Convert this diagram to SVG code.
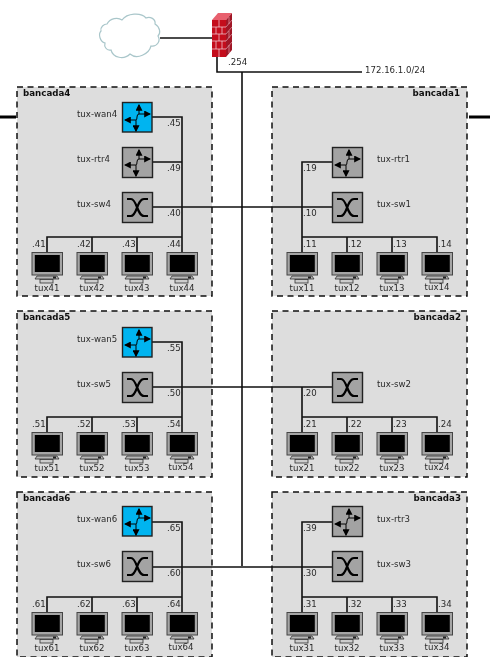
<svg xmlns="http://www.w3.org/2000/svg" width="490" height="667" viewBox="0 0 490 667">
<style>
text{font-family:"DejaVu Sans",sans-serif;font-size:8.6px;fill:#2a2a2a}
.b{font-weight:bold;fill:#111;font-size:8.7px}
.m{text-anchor:middle}
.e{text-anchor:end}
.box{fill:#dddddd;stroke:#111;stroke-width:1.5;stroke-dasharray:6 4.5}
.c{fill:none;stroke:#111;stroke-width:1.6}
.k{fill:none;stroke:#000;stroke-width:3}
.nb{stroke:#222;stroke-width:1.4}
</style>
<defs>
<filter id="soft" x="0" y="0" width="100%" height="100%"><feGaussianBlur stdDeviation="0.3"/></filter>
<marker id="ah" viewBox="0 0 6 6" refX="5" refY="3" markerWidth="7" markerHeight="7" markerUnits="userSpaceOnUse" orient="auto"><path d="M0 0L6 3L0 6Z" fill="#000"/></marker>
<g id="arrows" fill="none" stroke="#000" stroke-width="1">
<path d="M17 12V3" marker-end="url(#ah)"/><path d="M17 12H28" marker-end="url(#ah)"/>
<path d="M14 18H3" marker-end="url(#ah)"/><path d="M14 18V29" marker-end="url(#ah)"/>
<path d="M17 12Q15 12 15 15T14 18"/>
</g>
<g id="router"><rect class="nb" x="0.5" y="0.5" width="30" height="30" fill="#a3a3a3" stroke-width="1.6"/><use href="#arrows"/></g>
<g id="wan"><rect class="nb" x="0.5" y="0.5" width="29.5" height="29.5" fill="#00b4f0"/><use href="#arrows"/></g>
<g id="switch"><rect class="nb" x="0.5" y="0.5" width="30" height="30" fill="#a3a3a3" stroke-width="1.6"/>
<path d="M5 7H9C15 7 15 24 22 24H26M26 7H22C15 7 15 24 9 24H5" fill="none" stroke="#000" stroke-width="2.2"/></g>
<g id="pc">
<rect x="-15" y="0.5" width="30.5" height="22.5" fill="#a5a5a5" stroke="#444" stroke-width="1"/>
<rect x="-12.2" y="3" width="25" height="17" fill="#000"/>
<path d="M-10 24H10L12 27H-12Z" fill="#b5b5b5" stroke="#333" stroke-width="0.8"/>
<rect x="-7" y="27.5" width="13" height="3.5" fill="#ccc" stroke="#333" stroke-width="0.8"/>
<rect x="6" y="24.5" width="3" height="2" fill="#222"/>
</g>
</defs>
<g filter="url(#soft)">
<g id="bancada4"><rect class="box" x="17" y="87" width="195" height="209"/><text class="b" x="23" y="96">bancada4</text></g>
<g id="bancada1"><rect class="box" x="272" y="87" width="195" height="209"/><text class="b e" x="460" y="96">bancada1</text></g>
<g id="bancada5"><rect class="box" x="17" y="311" width="195" height="166"/><text class="b" x="23" y="320">bancada5</text></g>
<g id="bancada2"><rect class="box" x="272" y="311" width="195" height="166"/><text class="b e" x="461" y="320">bancada2</text></g>
<g id="bancada6"><rect class="box" x="17" y="492" width="195" height="165"/><text class="b" x="23" y="501">bancada6</text></g>
<g id="bancada3"><rect class="box" x="272" y="492" width="195" height="165"/><text class="b e" x="461" y="501">bancada3</text></g>

<g id="connectors">
<path class="k" d="M0 117H16M469 117H490"/>
<path class="c" d="M160 38H212M217 56V72H362M242 72V566"/>
<path class="c" d="M152 207H332M152 387H332M152 567H332"/>
<path class="c" d="M152 117H182V252M152 162H182M47 252V237H182M92 237V252M137 237V252"/>
<path class="c" d="M332 162H302V252M302 237H437V252M347 237V252M392 237V252"/>
<path class="c" d="M152 342H182V432M47 432V417H182M92 417V432M137 417V432"/>
<path class="c" d="M302 387V432M302 417H437V432M347 417V432M392 417V432"/>
<path class="c" d="M152 522H182V612M47 612V597H182M92 597V612M137 597V612"/>
<path class="c" d="M332 522H302V612M302 597H437V612M347 597V612M392 597V612"/>
</g>

<g id="cloud"><path d="M107 24C110 18 118 17 122 20C127 13 141 12 146 18C150 16 156 19 155 24C160 27 161 33 158 36C161 41 157 47 151 46C149 54 137 60 130 54C124 60 113 58 111 50C106 51 104 46 105 43C100 42 98 34 101 31C100 27 104 24 107 24Z" fill="#fff" stroke="#a9c6ca" stroke-width="1.2"/></g>
<g id="firewall">
<path d="M212 20L218 13H232L226 20Z" fill="#e8606e"/>
<path d="M226 20L232 13V50L226 57Z" fill="#a01526"/>
<rect x="212" y="20" width="14" height="37" fill="#c4091f"/>
<path d="M212 27H226M212 34H226M212 41H226M212 49H226M219 20V27M216 27V34M222 27V34M219 34V41M216 41V49M222 41V49M219 49V57" stroke="#f3dcdc" stroke-width="0.7" fill="none"/>
<path d="M226 27L232 20M226 34L232 27M226 41L232 34M226 49L232 42M229 17V24M229 31V38M229 45V53" stroke="#e9b8c0" stroke-width="0.6" fill="none"/>
</g>
<g id="net"><text x="228" y="65">.254</text><text x="365" y="73">172.16.1.0/24</text></g>

<g id="tux-wan4"><use href="#wan" x="122" y="102"/><text x="77" y="117">tux-wan4</text><text x="167" y="126">.45</text></g>
<g id="tux-rtr4"><use href="#router" x="122" y="147"/><text x="77" y="162">tux-rtr4</text><text x="167" y="171">.49</text></g>
<g id="tux-sw4"><use href="#switch" x="122" y="192"/><text x="77" y="207">tux-sw4</text><text x="167" y="216">.40</text></g>
<g id="tux41"><use href="#pc" x="47" y="252"/><text class="m" x="47" y="291">tux41</text><text x="32" y="247">.41</text></g>
<g id="tux42"><use href="#pc" x="92" y="252"/><text class="m" x="92" y="291">tux42</text><text x="77" y="247">.42</text></g>
<g id="tux43"><use href="#pc" x="137" y="252"/><text class="m" x="137" y="291">tux43</text><text x="122" y="247">.43</text></g>
<g id="tux44"><use href="#pc" x="182" y="252"/><text class="m" x="182" y="291">tux44</text><text x="167" y="247">.44</text></g>

<g id="tux-rtr1"><use href="#router" x="332" y="147"/><text x="377" y="162">tux-rtr1</text><text x="303" y="171">.19</text></g>
<g id="tux-sw1"><use href="#switch" x="332" y="192"/><text x="377" y="207">tux-sw1</text><text x="303" y="216">.10</text></g>
<g id="tux11"><use href="#pc" x="302" y="252"/><text class="m" x="302" y="291">tux11</text><text x="303" y="247">.11</text></g>
<g id="tux12"><use href="#pc" x="347" y="252"/><text class="m" x="347" y="291">tux12</text><text x="348" y="247">.12</text></g>
<g id="tux13"><use href="#pc" x="392" y="252"/><text class="m" x="392" y="291">tux13</text><text x="393" y="247">.13</text></g>
<g id="tux14"><use href="#pc" x="437" y="252"/><text class="m" x="437" y="290">tux14</text><text x="438" y="247">.14</text></g>

<g id="tux-wan5"><use href="#wan" x="122" y="327"/><text x="77" y="342">tux-wan5</text><text x="167" y="351">.55</text></g>
<g id="tux-sw5"><use href="#switch" x="122" y="372"/><text x="77" y="387">tux-sw5</text><text x="167" y="396">.50</text></g>
<g id="tux51"><use href="#pc" x="47" y="432"/><text class="m" x="47" y="471">tux51</text><text x="32" y="427">.51</text></g>
<g id="tux52"><use href="#pc" x="92" y="432"/><text class="m" x="92" y="471">tux52</text><text x="77" y="427">.52</text></g>
<g id="tux53"><use href="#pc" x="137" y="432"/><text class="m" x="137" y="471">tux53</text><text x="122" y="427">.53</text></g>
<g id="tux54"><use href="#pc" x="182" y="432"/><text class="m" x="181" y="470">tux54</text><text x="167" y="427">.54</text></g>

<g id="tux-sw2"><use href="#switch" x="332" y="372"/><text x="377" y="387">tux-sw2</text><text x="303" y="396">.20</text></g>
<g id="tux21"><use href="#pc" x="302" y="432"/><text class="m" x="302" y="471">tux21</text><text x="303" y="427">.21</text></g>
<g id="tux22"><use href="#pc" x="347" y="432"/><text class="m" x="347" y="471">tux22</text><text x="348" y="427">.22</text></g>
<g id="tux23"><use href="#pc" x="392" y="432"/><text class="m" x="392" y="471">tux23</text><text x="393" y="427">.23</text></g>
<g id="tux24"><use href="#pc" x="437" y="432"/><text class="m" x="437" y="470">tux24</text><text x="438" y="427">.24</text></g>

<g id="tux-wan6"><use href="#wan" x="122" y="506"/><text x="77" y="522">tux-wan6</text><text x="167" y="531">.65</text></g>
<g id="tux-sw6"><use href="#switch" x="122" y="551"/><text x="77" y="567">tux-sw6</text><text x="167" y="576">.60</text></g>
<g id="tux61"><use href="#pc" x="47" y="612"/><text class="m" x="47" y="651">tux61</text><text x="32" y="607">.61</text></g>
<g id="tux62"><use href="#pc" x="92" y="612"/><text class="m" x="92" y="651">tux62</text><text x="77" y="607">.62</text></g>
<g id="tux63"><use href="#pc" x="137" y="612"/><text class="m" x="137" y="651">tux63</text><text x="122" y="607">.63</text></g>
<g id="tux64"><use href="#pc" x="182" y="612"/><text class="m" x="181" y="650">tux64</text><text x="167" y="607">.64</text></g>

<g id="tux-rtr3"><use href="#router" x="332" y="506"/><text x="377" y="522">tux-rtr3</text><text x="303" y="531">.39</text></g>
<g id="tux-sw3"><use href="#switch" x="332" y="551"/><text x="377" y="567">tux-sw3</text><text x="303" y="576">.30</text></g>
<g id="tux31"><use href="#pc" x="302" y="612"/><text class="m" x="302" y="651">tux31</text><text x="303" y="607">.31</text></g>
<g id="tux32"><use href="#pc" x="347" y="612"/><text class="m" x="347" y="651">tux32</text><text x="348" y="607">.32</text></g>
<g id="tux33"><use href="#pc" x="392" y="612"/><text class="m" x="392" y="651">tux33</text><text x="393" y="607">.33</text></g>
<g id="tux34"><use href="#pc" x="437" y="612"/><text class="m" x="437" y="650">tux34</text><text x="438" y="607">.34</text></g>
</g>
</svg>
